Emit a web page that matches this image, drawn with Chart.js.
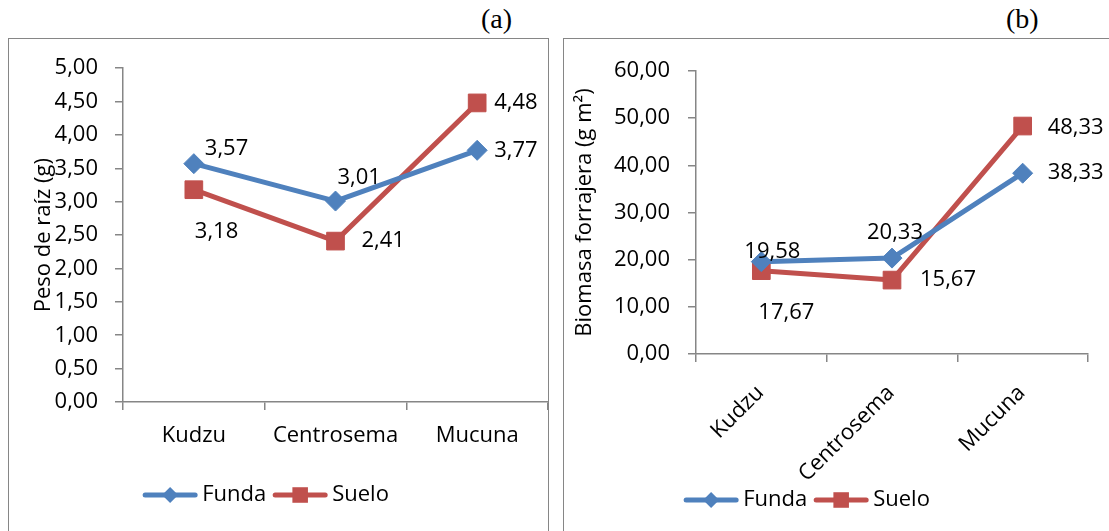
<!DOCTYPE html>
<html>
<head>
<meta charset="utf-8">
<script src="https://cdn.jsdelivr.net/npm/chart.js@4/dist/chart.umd.min.js"></script>
<style>
  html, body { margin: 0; padding: 0; background: #fff; width: 1109px; height: 531px; overflow: hidden; }
  .panel { position: absolute; top: 38px; height: 520px; border: 1.5px solid #868686; box-sizing: border-box; }
  #panelA { left: 8px; width: 541px; }
  #panelB { left: 563px; width: 580px; }
  .tag { position: absolute; top: 3px; font-family: "Liberation Serif", "Times New Roman", serif; font-size: 28px; color: #000; }
  #tagA { left: 481px; }
  #tagB { left: 1006px; }
  canvas { position: absolute; top: 38px; }
  #chartA { left: 8px; }
  #chartB { left: 563px; }
</style>
</head>
<body>
<div class="panel" id="panelA"></div>
<div class="panel" id="panelB"></div>
<div class="tag" id="tagA">(a)</div>
<div class="tag" id="tagB">(b)</div>
<canvas id="chartA" width="540" height="493"></canvas>
<canvas id="chartB" width="546" height="493"></canvas>
<script>
// Cover crops
const categories = ['Kudzu', 'Centrosema', 'Mucuna'];
const seriesNames = ['Funda', 'Suelo'];

// (a) Root weight, g
const rootFunda = [3.57, 3.01, 3.77];
const rootSuelo = [3.18, 2.41, 4.48];
const rootTicks = [0, 0.5, 1, 1.5, 2, 2.5, 3, 3.5, 4, 4.5, 5];

// (b) Forage biomass, g m2
const bioFunda = [19.58, 20.33, 38.33];
const bioSuelo = [17.67, 15.67, 48.33];
const bioTicks = [0, 10, 20, 30, 40, 50, 60];

const BLUE = '#4F81BD';
const RED = '#C0504D';
const AXIS = '#868686';
const FONT = "'Open Sans', 'Noto Sans', sans-serif";
const FS = 22;

const fmt = v => v.toFixed(2).replace('.', ',');

// Writes each point's value next to its marker
const valueLabels = {
  id: 'valueLabels',
  afterDatasetsDraw(chart, args, opts) {
    const ctx = chart.ctx;
    ctx.save();
    ctx.font = FS + 'px ' + FONT;
    ctx.fillStyle = '#000';
    ctx.textBaseline = 'middle';
    ctx.textAlign = 'left';
    chart.data.datasets.forEach((ds, i) => {
      chart.getDatasetMeta(i).data.forEach((pt, j) => {
        const off = opts.offsets[i][j];
        ctx.fillText(fmt(ds.data[j]), pt.x + off[0], pt.y + off[1]);
      });
    });
    ctx.restore();
  }
};

function drawMarker(ctx, style, x, y, r, color) {
  ctx.beginPath();
  if (style === 'rectRot') {
    ctx.moveTo(x - r, y); ctx.lineTo(x, y - r); ctx.lineTo(x + r, y); ctx.lineTo(x, y + r);
  } else {
    const s = r * Math.SQRT1_2;
    ctx.rect(x - s, y - s, 2 * s, 2 * s);
  }
  ctx.closePath();
  ctx.fillStyle = color;
  ctx.fill();
}

// Legend with a line sample through the marker
const lineLegend = {
  id: 'lineLegend',
  afterDraw(chart, args, opts) {
    const ctx = chart.ctx;
    ctx.save();
    ctx.font = FS + 'px ' + FONT;
    const lineLen = 54, gap = 5, spacing = 7;
    const items = chart.data.datasets.map(ds => ({ ds, w: lineLen + gap + ctx.measureText(ds.label).width }));
    const total = items.reduce((a, it) => a + it.w, 0) + spacing * (items.length - 1);
    let x = opts.centerX - total / 2;
    const y = opts.y;
    items.forEach(it => {
      const ds = it.ds;
      ctx.strokeStyle = ds.borderColor;
      ctx.lineWidth = 5;
      ctx.lineCap = 'round';
      ctx.beginPath();
      ctx.moveTo(x + 2, y); ctx.lineTo(x + lineLen - 2, y);
      ctx.stroke();
      drawMarker(ctx, ds.pointStyle, x + lineLen / 2, y, ds.pointStyle === 'rect' ? 11 : 8, ds.borderColor);
      ctx.fillStyle = '#000';
      ctx.textBaseline = 'middle';
      ctx.textAlign = 'left';
      ctx.fillText(ds.label, x + lineLen + gap, y);
      x += it.w + spacing;
    });
    ctx.restore();
  }
};

function dataset(label, data, color, style, radius) {
  return {
    label, data,
    borderColor: color, backgroundColor: color,
    borderWidth: 5,
    pointStyle: style,
    pointRadius: radius, pointHoverRadius: radius,
    pointBorderWidth: 1,
    pointBackgroundColor: color, pointBorderColor: color,
    tension: 0,
    borderJoinStyle: 'round',
    clip: false
  };
}

function makeChart(id, cfg) {
  return new Chart(document.getElementById(id), {
    type: 'line',
    data: {
      labels: categories,
      datasets: [
        dataset(seriesNames[0], cfg.funda, BLUE, 'rectRot', 10),
        dataset(seriesNames[1], cfg.suelo, RED, 'rect', 12.5)
      ]
    },
    options: {
      responsive: false,
      animation: false,
      layout: { padding: cfg.padding, autoPadding: false },
      plugins: {
        legend: { display: false },
        tooltip: { enabled: false },
        valueLabels: { offsets: cfg.offsets },
        lineLegend: cfg.legend
      },
      scales: {
        x: {
          type: 'category',
          offset: true,
          grid: { offset: true, drawOnChartArea: false, drawTicks: true, tickLength: 8, color: AXIS, lineWidth: 1.5 },
          border: { color: AXIS, width: 1.5 },
          ticks: {
            color: '#000', font: { family: FONT, size: FS },
            padding: cfg.xPad, labelOffset: cfg.xShift,
            maxRotation: cfg.rot, minRotation: cfg.rot, autoSkip: false
          },
          afterFit: s => { s.height = cfg.xHeight; s.paddingLeft = 0; s.paddingRight = 0; }
        },
        y: {
          min: cfg.ticks[0], max: cfg.ticks[cfg.ticks.length - 1],
          afterBuildTicks: s => { s.ticks = cfg.ticks.map(v => ({ value: v })); },
          grid: { drawOnChartArea: false, drawTicks: true, tickLength: 8, color: AXIS, lineWidth: 1.5 },
          border: { color: AXIS, width: 1.5 },
          ticks: { color: '#000', font: { family: FONT, size: FS }, padding: cfg.yPad, callback: v => fmt(v) },
          title: { display: true, text: cfg.yTitle, color: '#000', font: { family: FONT, size: FS }, padding: { top: cfg.titlePad, bottom: 0 } },
          afterFit: s => { s.width = cfg.yWidth; }
        }
      }
    },
    plugins: [valueLabels, lineLegend]
  });
}

function build() {
  makeChart('chartA', {
    funda: rootFunda, suelo: rootSuelo, ticks: rootTicks,
    yTitle: 'Peso de raíz (g)',
    padding: { top: 25, right: 0, bottom: 69, left: 0 },
    xHeight: 60, yWidth: 115, yPad: 17, xPad: 13, xShift: 0, rot: 0, titlePad: 23,
    offsets: [
      [[11, -15], [2, -23], [17, 0]],
      [[1, 42], [26, 0], [17, 0]]
    ],
    legend: { centerX: 258, y: 457 }
  });
  makeChart('chartB', {
    funda: bioFunda, suelo: bioSuelo, ticks: bioTicks,
    yTitle: 'Biomasa forrajera (g m²)',
    padding: { top: 33, right: 21, bottom: 7, left: 0 },
    xHeight: 170, yWidth: 133, yPad: 18, xPad: 18, xShift: -1, rot: 45, titlePad: 9,
    offsets: [
      [[-17, -10], [-25, -25], [25, 0]],
      [[-3, 42], [28, 0], [25, 2]]
    ],
    legend: { centerX: 244, y: 462 }
  });
}

if (document.fonts && document.fonts.load) {
  document.fonts.load(FS + "px 'Open Sans'").then(build, build);
} else {
  build();
}
</script>
</body>
</html>
